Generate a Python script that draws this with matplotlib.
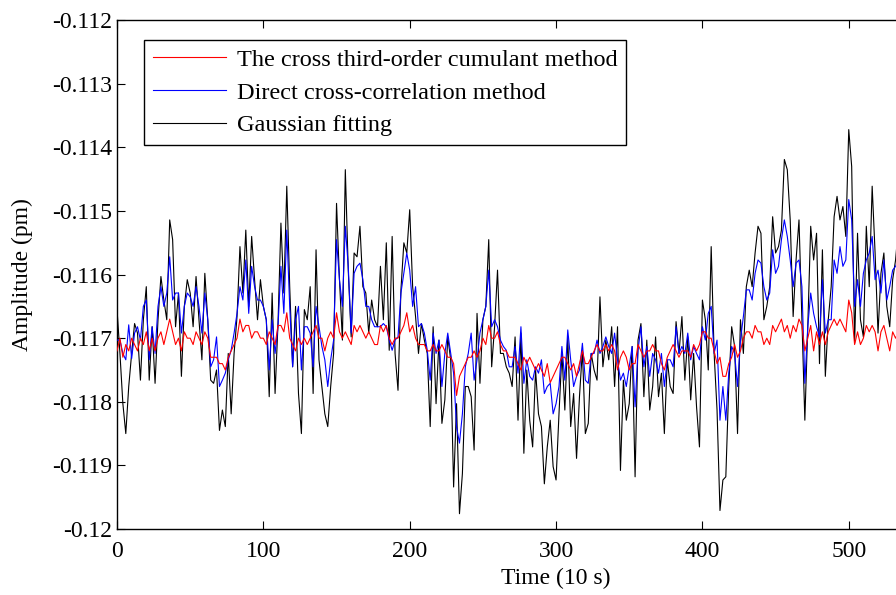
import numpy as np
import matplotlib
matplotlib.use("Agg")
import matplotlib.pyplot as plt
from matplotlib.ticker import FuncFormatter

plt.rcParams['font.family'] = ['Liberation Serif', 'DejaVu Serif']
plt.rcParams['axes.unicode_minus'] = False

# amplitudes in units of 1e-3 pm, sampled every 2 time units (10 s)
cumulant = [
    -117.2, -117.0, -117.3, -117.1, -117.2, -117.0, -117.1, -117.2, -117.0, -117.1,
    -116.9, -117.2, -117.0, -117.2, -117.0, -116.9, -117.1, -116.9, -116.7, -116.9,
    -117.1, -117.0, -117.2, -116.9, -117.0, -117.0, -117.1, -116.9, -117.0, -117.1,
    -116.9, -117.0, -117.3, -117.3, -117.3, -117.4, -117.4, -117.5, -117.3, -117.2,
    -117.1, -117.0, -116.7, -116.9, -116.8, -116.8, -117.0, -116.9, -116.9, -117.0,
    -117.0, -117.1, -116.9, -117.0, -117.1, -116.8, -116.8, -116.9, -116.6, -117.0,
    -117.1, -117.2, -117.0, -117.1, -117.0, -117.1, -117.0, -116.9, -116.8, -117.0,
    -117.0, -117.2, -117.0, -116.9, -117.0, -116.6, -116.9, -117.0, -116.9, -117.0,
    -117.1, -116.8, -116.9, -116.8, -116.9, -117.0, -116.9, -117.0, -117.1, -117.1,
    -116.8, -116.9, -116.8, -117.0, -117.1, -117.0, -117.0, -116.9, -116.8, -116.6,
    -116.9, -116.8, -117.0, -117.1, -117.1, -117.1, -117.2, -117.2, -117.1, -117.2,
    -117.2, -117.1, -117.2, -117.3, -117.3, -117.4, -117.9, -117.6, -117.5, -117.4,
    -117.3, -117.3, -117.2, -117.3, -117.2, -117.0, -117.1, -116.8, -117.0, -117.0,
    -116.9, -117.1, -117.2, -117.2, -117.3, -117.3, -117.3, -117.4, -117.5, -117.3,
    -117.4, -117.3, -117.4, -117.5, -117.4, -117.5, -117.6, -117.4, -117.7, -117.6,
    -117.5, -117.4, -117.3, -117.3, -117.4, -117.5, -117.4, -117.6, -117.4, -117.2,
    -117.4, -117.4, -117.3, -117.2, -117.1, -117.2, -117.2, -117.1, -117.2, -117.1,
    -117.2, -117.5, -117.3, -117.2, -117.3, -117.5, -117.4, -117.4, -117.1, -117.2,
    -117.3, -117.2, -117.2, -117.1, -117.2, -117.2, -117.4, -117.5, -117.3, -117.2,
    -117.1, -117.2, -117.3, -117.2, -117.2, -117.2, -117.3, -117.1, -117.2, -117.1,
    -116.9, -116.9, -117.0, -117.0, -117.2, -117.4, -117.3, -117.6, -117.6, -117.4,
    -117.3, -117.1, -117.3, -117.2, -117.0, -116.9, -116.9, -117.0, -116.8, -116.9,
    -116.9, -117.1, -117.0, -117.1, -116.8, -116.9, -116.8, -116.7, -116.9, -116.8,
    -117.0, -116.8, -116.9, -116.7, -116.8, -117.2, -117.0, -116.8, -117.2, -116.9,
    -117.1, -116.9, -117.1, -116.9, -116.8, -116.7, -116.8, -116.7, -116.8, -116.9,
    -116.4, -116.6, -117.1, -116.9, -117.1, -117.0, -116.8, -116.9, -116.8, -116.9,
    -117.2, -116.9, -116.8, -117.0, -117.2, -116.9, -117.0, -116.9, -116.8,
]

direct = [
    -117.03, -117.03, -117.24, -117.34, -116.79, -117.32, -116.92, -116.82, -117.03, -116.50,
    -116.40, -117.34, -116.82, -117.24, -116.50, -116.19, -116.50, -116.29, -115.72, -116.40,
    -116.29, -116.29, -116.92, -116.50, -116.29, -116.35, -116.50, -116.19, -116.50, -116.92,
    -116.29, -116.71, -117.45, -117.34, -116.98, -117.76, -117.66, -117.55, -117.34, -117.19,
    -116.92, -116.61, -116.19, -116.40, -115.77, -116.61, -115.87, -116.19, -116.40, -116.40,
    -116.50, -116.71, -117.50, -116.71, -117.24, -116.82, -115.87, -116.61, -115.30, -116.50,
    -117.45, -116.71, -116.50, -117.50, -116.82, -116.82, -116.92, -117.45, -116.50, -116.82,
    -117.13, -117.34, -117.76, -117.34, -117.03, -115.45, -116.08, -116.50, -115.24, -115.87,
    -116.92, -115.98, -115.87, -115.82, -116.08, -116.50, -116.50, -116.71, -116.82, -116.82,
    -116.82, -116.77, -116.82, -117.03, -117.19, -117.03, -116.98, -116.29, -115.98, -115.66,
    -115.93, -116.50, -116.19, -116.82, -116.77, -116.92, -117.19, -117.66, -116.92, -117.24,
    -117.03, -117.76, -117.24, -116.92, -117.24, -117.55, -118.39, -118.65, -118.19, -117.45,
    -117.24, -116.92, -117.66, -117.34, -116.92, -116.71, -116.50, -115.93, -116.82, -116.71,
    -116.82, -117.03, -117.13, -117.19, -117.45, -117.45, -117.13, -117.55, -116.82, -117.71,
    -117.34, -117.60, -117.66, -117.45, -117.55, -117.34, -117.87, -117.76, -117.71, -118.19,
    -118.03, -117.76, -117.13, -117.66, -116.87, -117.34, -117.76, -117.60, -117.50, -117.08,
    -117.66, -117.71, -117.24, -117.24, -117.03, -117.24, -117.13, -116.98, -117.13, -117.24,
    -116.92, -117.34, -117.66, -117.55, -117.76, -117.45, -117.13, -118.08, -117.19, -116.82,
    -117.45, -117.13, -117.60, -117.24, -117.34, -117.55, -117.24, -117.76, -117.34, -117.34,
    -117.45, -116.82, -117.24, -117.13, -117.24, -116.92, -117.34, -117.13, -117.24, -117.34,
    -116.82, -117.03, -116.61, -116.50, -117.24, -117.03, -118.29, -117.76, -118.29, -117.55,
    -117.13, -117.24, -117.76, -117.03, -116.66, -116.24, -116.24, -116.40, -115.98, -115.77,
    -115.82, -116.19, -116.40, -116.29, -115.61, -115.98, -115.87, -115.45, -115.14, -115.40,
    -115.77, -116.19, -115.82, -115.77, -116.19, -117.71, -116.82, -116.29, -116.61, -116.82,
    -116.98, -116.08, -116.92, -116.71, -116.71, -115.77, -115.98, -115.56, -115.87, -115.77,
    -114.82, -115.14, -116.50, -116.08, -116.50, -115.98, -115.77, -115.66, -115.40, -116.08,
    -115.93, -116.29, -115.77, -116.40, -116.19, -115.93, -115.87, -115.77, -116.08,
]

gaussian = [
    -116.55, -117.24, -118.03, -118.50, -117.76, -117.24, -116.77, -116.92, -117.66, -116.71,
    -116.19, -117.66, -116.82, -117.71, -116.71, -116.03, -116.40, -116.71, -115.14, -115.45,
    -116.82, -116.29, -117.60, -116.50, -116.08, -116.29, -116.82, -116.03, -116.71, -117.34,
    -115.98, -116.71, -117.66, -117.71, -117.50, -118.45, -118.13, -118.39, -117.24, -118.19,
    -117.24, -116.66, -115.56, -116.29, -115.30, -116.50, -115.40, -116.08, -116.71, -116.08,
    -116.50, -116.71, -117.92, -116.29, -117.87, -116.77, -115.19, -116.29, -114.61, -116.19,
    -117.45, -116.50, -117.87, -118.50, -116.55, -116.71, -116.19, -117.87, -115.61, -117.34,
    -117.76, -118.19, -118.39, -117.76, -117.24, -114.88, -116.08, -117.03, -114.35, -115.93,
    -116.98, -115.66, -115.72, -115.24, -116.19, -116.29, -116.92, -116.40, -116.71, -116.82,
    -115.87, -116.71, -115.50, -117.19, -115.40, -117.24, -117.82, -116.24, -115.50, -115.66,
    -114.98, -116.19, -116.66, -117.24, -116.77, -117.03, -117.24, -118.39, -116.82, -118.03,
    -117.03, -118.34, -117.97, -116.98, -117.34, -119.34, -118.03, -119.76, -119.13, -117.76,
    -117.76, -117.92, -118.76, -116.61, -117.71, -116.71, -116.50, -115.45, -117.45, -116.82,
    -115.93, -117.24, -117.24, -117.45, -117.55, -117.76, -116.98, -118.29, -116.92, -118.81,
    -117.50, -118.29, -118.71, -117.50, -118.19, -118.39, -119.29, -118.71, -118.29, -119.02,
    -119.23, -118.19, -117.24, -118.13, -116.98, -118.39, -117.87, -118.89, -117.92, -117.19,
    -118.50, -118.34, -117.24, -117.50, -117.66, -116.35, -117.45, -117.03, -117.34, -116.82,
    -117.76, -116.82, -119.08, -117.66, -118.29, -118.03, -117.13, -119.18, -117.03, -116.77,
    -117.92, -117.03, -118.13, -117.76, -116.98, -117.92, -117.55, -118.50, -117.34, -117.76,
    -117.87, -116.74, -117.24, -116.66, -117.66, -116.98, -117.97, -117.24, -118.08, -118.71,
    -116.40, -116.71, -117.50, -115.56, -117.24, -118.13, -119.71, -119.23, -119.18, -117.76,
    -116.82, -117.13, -118.50, -116.71, -117.24, -116.19, -115.93, -116.19, -115.66, -115.24,
    -115.35, -116.71, -116.50, -116.19, -115.09, -115.66, -115.56, -115.30, -114.19, -114.35,
    -115.14, -116.66, -115.77, -115.14, -116.71, -118.29, -116.82, -115.24, -115.77, -115.35,
    -117.40, -115.61, -117.60, -116.71, -116.19, -115.09, -114.77, -115.14, -114.93, -115.40,
    -113.72, -114.30, -117.08, -115.35, -116.71, -116.98, -115.24, -116.19, -114.61, -115.66,
    -116.92, -115.98, -115.66, -116.50, -116.82, -116.08, -115.77, -115.24, -115.93,
]

labels = ['The cross third-order cumulant method',
          'Direct cross-correlation method',
          'Gaussian fitting']
yticks = [-0.112, -0.113, -0.114, -0.115, -0.116, -0.117, -0.118, -0.119, -0.12]
xticks = [0, 100, 200, 300, 400, 500]

fig = plt.figure(figsize=(8.96, 5.95), dpi=100)
ax = fig.add_axes([0.1306, 0.111, 0.98, 0.855])

def series(vals):
    vals = np.array(vals) * 1e-3
    return 2 * np.arange(len(vals)), vals

t, y = series(gaussian)
l3, = ax.plot(t, y, color='black', lw=0.8, zorder=2)
t, y = series(direct)
l2, = ax.plot(t, y, color='blue', lw=0.8, zorder=3)
t, y = series(cumulant)
l1, = ax.plot(t, y, color='red', lw=0.8, zorder=4)

ax.set_xlim(0, 600)
ax.set_ylim(-0.12, -0.112)
ax.set_xticks(xticks)
ax.set_yticks(yticks)
ax.yaxis.set_major_formatter(FuncFormatter(lambda v, p: '%g' % v))
ax.tick_params(direction='in', top=True, right=True, length=6, labelsize=17)
ax.tick_params(axis='x', pad=9)
for s in ax.spines.values():
    s.set_linewidth(1.0)

ax.set_xlabel('Time (10 s)', fontsize=17, labelpad=4)
ax.set_ylabel('Amplitude (pm)', fontsize=17, labelpad=14)

leg = ax.legend([l1, l2, l3], labels, loc='upper left',
                bbox_to_anchor=(0.031, 0.961), borderaxespad=0,
                fancybox=False, edgecolor='black', framealpha=1,
                fontsize=17.5, handlelength=3.0, handletextpad=0.45,
                labelspacing=0.45, borderpad=0.35)
leg.get_frame().set_linewidth(1.0)

fig.savefig('out.png', dpi=100)
